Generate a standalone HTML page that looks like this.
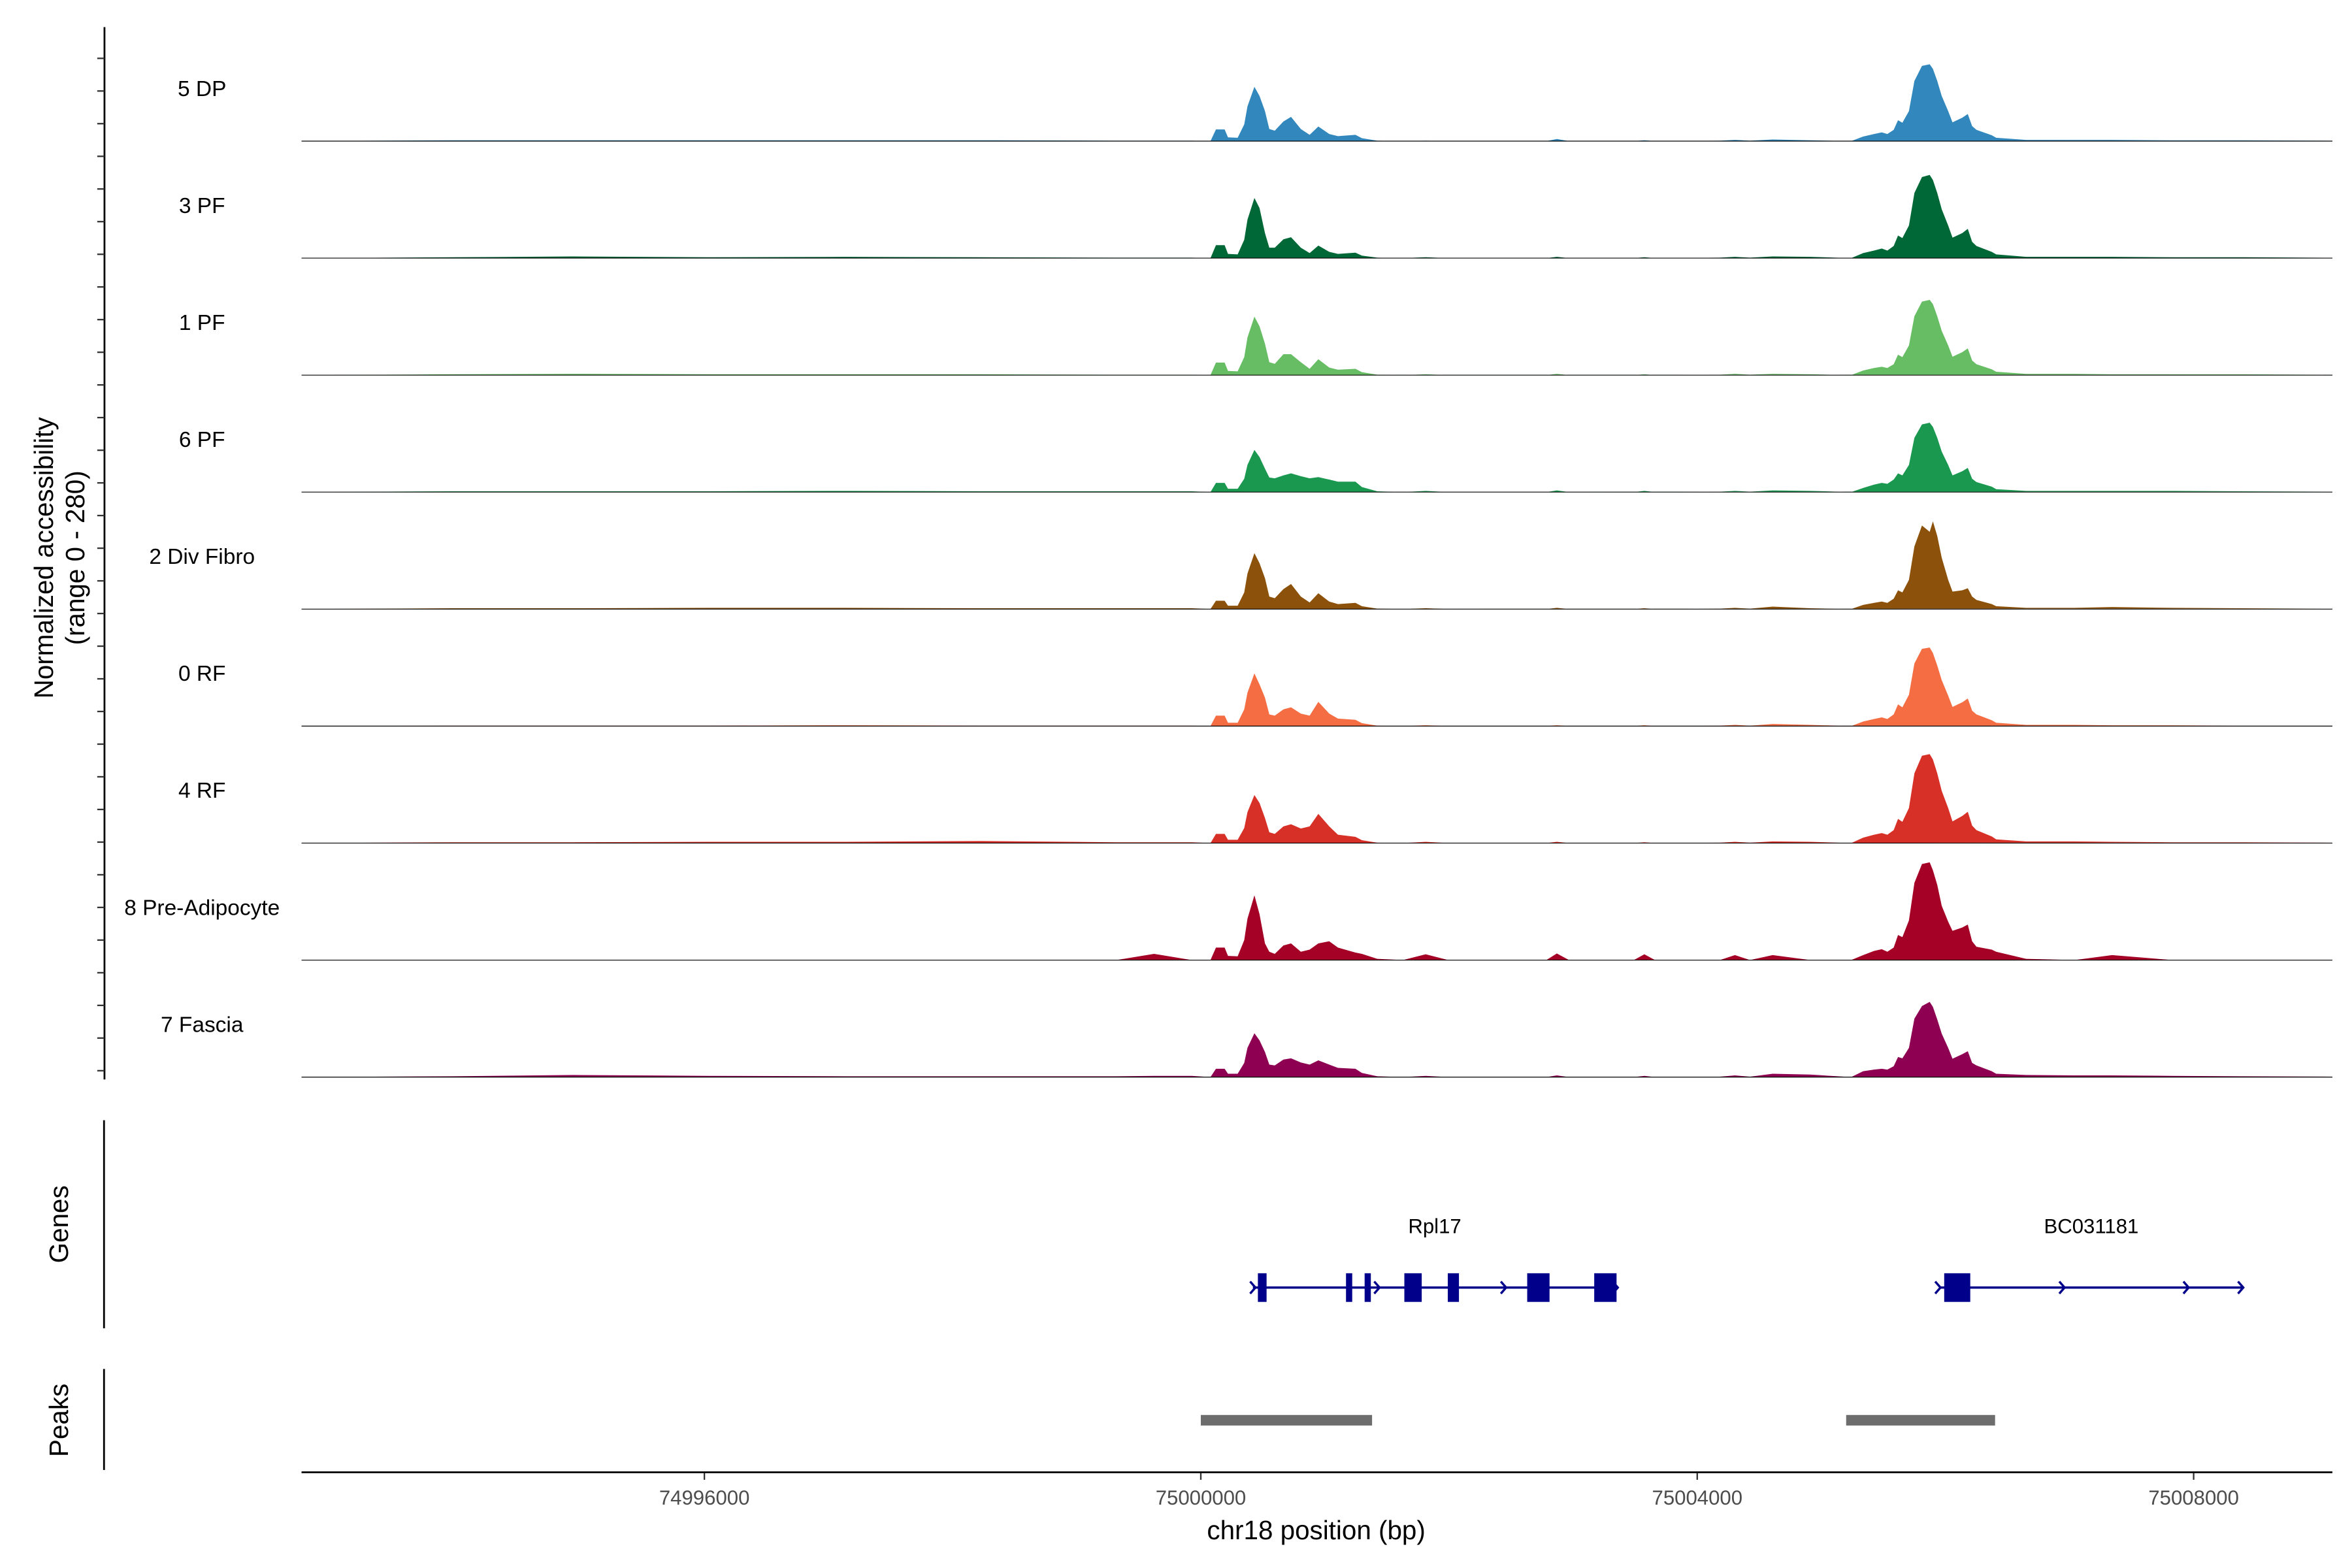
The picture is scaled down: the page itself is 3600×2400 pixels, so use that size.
<!DOCTYPE html>
<html><head><meta charset="utf-8"><style>
html,body{margin:0;padding:0;background:#fff;}
svg{display:block;font-family:"Liberation Sans",Arial,sans-serif;}
</style></head>
<body>
<svg id="chart" width="3600" height="2400" viewBox="0 0 1560 1040" xmlns="http://www.w3.org/2000/svg">
<rect width="1560" height="1040" fill="#fff"/>
<g id="tracks"></g>
<g id="yaxis"></g>
<text transform="translate(35,370) rotate(-90)" text-anchor="middle" font-size="17.5" fill="#000">Normalized accessibility</text>
<text transform="translate(56,370) rotate(-90)" text-anchor="middle" font-size="17.5" fill="#000">(range 0 - 280)</text>
<line x1="69" y1="743" x2="69" y2="881" stroke="#000" stroke-width="1.2"/>
<text transform="translate(45,812) rotate(-90)" text-anchor="middle" font-size="17.5" fill="#000">Genes</text>
<line x1="69" y1="908" x2="69" y2="975" stroke="#000" stroke-width="1.2"/>
<text transform="translate(45,942) rotate(-90)" text-anchor="middle" font-size="17.5" fill="#000">Peaks</text>
<g id="genes"></g>
<g id="peaks"></g>
<g id="xaxis"></g>
<text x="873" y="1021" text-anchor="middle" font-size="17.5" fill="#000">chr18 position (bp)</text>
</svg>
<script>
const NS="http://www.w3.org/2000/svg";
const positions=[74992760,74993970,74994942,74996036,74997131,74998225,74999319,74999623,74999927,
75000078,75000122,75000192,75000219,75000297,75000350,75000376,75000432,75000473,75000517,75000552,75000596,75000666,75000727,75000806,75000877,75000947,75001035,75001105,75001246,75001298,75001422,
75001629,75001812,75001994,75002784,75002869,75002967,75003489,75003574,75003660,75004182,75004304,75004425,75004608,75004912,
75005240,75005337,75005425,75005487,75005532,75005583,75005618,75005653,75005706,75005750,75005811,75005873,75005899,75005934,75005970,75006022,75006057,75006136,75006180,75006215,75006250,75006373,75006409,
75006650,75007040,75007343,75007830,75008401,75009131];
const trackNames=["5 DP","3 PF","1 PF","6 PF","2 Div Fibro","0 RF","4 RF","8 Pre-Adipocyte","7 Fascia"];
const trackColors=["#3288bd","#006837","#66bd63","#1a9850","#8c510a","#f46d43","#d73027","#a50026","#8e0152"];
const valsDP=[0,2,2,2,2,2,1,1,1, 0,28,28,9,8,40,83,130,108,72,29,25,47,58,29,15,35,17,12,15,7,1, 0,1,0,0,5,0,0,2,0,1,3,1,4,2, 0,11,17,21,17,27,50,44,72,144,180,184,173,144,108,72,45,56,65,36,27,14,8,3,3, 3,2,2,1,0];
const vals3PF=[0,2,4,2,3,2,1,1,1, 0,31,31,10,9,44,92,144,120,60,25,25,45,50,25,12,30,15,10,13,6,1, 0,2,0,0,3,0,0,2,0,1,3,1,4,3, 0,12,18,23,18,29,54,48,78,156,194,199,187,156,117,78,49,60,70,39,29,15,9,3,3, 3,2,2,1,0];
const vals1PF=[0,2,3,2,2,2,1,1,1, 0,30,30,10,9,43,90,140,117,75,31,27,50,50,31,15,38,18,13,15,7,1, 0,2,0,0,3,0,0,2,0,1,3,1,3,2, 0,11,17,20,17,26,49,43,71,141,176,180,170,141,106,71,44,55,64,35,26,14,8,3,3, 2,2,2,1,0];
const vals6PF=[0,2,2,2,3,2,2,2,2, 0,22,22,8,8,32,65,101,84,56,35,33,40,45,38,33,36,30,25,25,12,2, 0,3,0,0,4,0,0,3,0,1,3,1,4,3, 0,10,18,22,20,30,45,40,65,130,162,166,156,130,97,65,40,50,58,32,24,13,7,3,3, 3,3,2,1,0];
const valsDiv=[0,2,2,3,3,2,2,2,2, 0,20,20,8,8,40,85,134,110,74,30,26,48,60,30,16,38,18,12,15,7,1, 0,2,0,0,3,0,0,2,0,1,3,1,6,2, 0,10,15,18,15,25,45,40,70,150,200,185,210,175,123,70,42,45,50,30,22,12,7,3,3, 5,3,2,1,0];
const vals0RF=[0,1,1,1,2,1,1,1,1, 0,25,25,8,8,40,80,126,100,68,28,25,40,45,30,25,58,30,18,15,7,1, 0,2,0,0,2,0,0,2,0,1,3,1,5,3, 0,11,17,21,17,28,52,45,75,150,185,188,175,145,110,73,46,57,66,37,28,14,8,3,3, 2,2,1,1,0];
const vals4RF=[0,2,2,3,3,5,2,2,2, 0,22,22,8,8,36,74,115,96,60,26,22,40,45,35,40,70,40,20,15,7,1, 0,3,0,0,3,0,0,2,0,1,3,1,4,3, 0,13,20,24,20,31,58,51,84,167,209,213,200,167,125,84,52,65,75,42,31,16,9,4,4, 3,2,2,1,0];
const valsPre=[0,0,0,0,0,0,0,15,0, 0,30,30,10,9,48,99,155,110,40,20,15,35,40,20,25,40,45,30,18,15,3, 0,14,0,0,16,0,0,14,0,0,12,0,12,0, 0,12,22,26,20,30,60,55,95,185,230,234,215,180,130,92,70,78,85,45,32,25,20,3,0, 12,0,0,0,0];
const valsFas=[0,2,5,3,2,2,2,3,3, 0,20,20,8,8,34,70,105,88,60,30,28,42,45,35,30,40,30,22,20,10,2, 0,3,0,0,4,0,0,3,0,1,4,1,8,6, 0,14,18,20,18,26,48,45,70,140,170,180,168,138,104,70,44,55,62,34,28,14,8,5,4, 4,3,2,1,0];
const trackValues=[valsDP,vals3PF,vals1PF,vals6PF,valsDiv,vals0RF,vals4RF,valsPre,valsFas];
const xTicks=[74996000,75000000,75004000,75008000];
const peakStarts=[75000000,75005200];
const peakEnds=[75001380,75006400];
const rpl17Exons=[[75000460,75000530],[75001170,75001220],[75001320,75001370],[75001640,75001780],[75001990,75002080],[75002630,75002810],[75003170,75003350]];
const rpl17Span=[75000420,75003350];
const bcExons=[[75005990,75006200]];
const bcSpan=[75005950,75008400];

const X0=200,X1=1547,BP0=74992754,BP1=75009118;
function xs(bp){return X0+(bp-BP0)/(BP1-BP0)*(X1-X0);}
const trackTop=16,trackH=77.6,YMAX=280;
function ys(i,v){return trackTop+(i+1)*trackH-v/YMAX*trackH;}
function el(tag,attrs,parent){const e=document.createElementNS(NS,tag);for(const k in attrs)e.setAttribute(k,attrs[k]);parent.appendChild(e);return e;}

const gT=document.getElementById('tracks');
trackValues.forEach((vals,i)=>{
  const base=ys(i,0);
  let d="M"+xs(positions[0])+","+base;
  vals.forEach((v,j)=>{d+=" L"+xs(positions[j]).toFixed(2)+","+ys(i,v).toFixed(2);});
  d+=" L"+xs(positions[positions.length-1])+","+base+" Z";
  const p=el('path',{d:d,fill:trackColors[i]},gT);
  
  
  const b=el('line',{x1:X0,x2:X1,y1:base,y2:base,stroke:'#000','stroke-width':0.5},gT);
  
  
  const t=el('text',{x:134,y:ys(i,0)-30,'text-anchor':'middle','font-size':14.5,fill:'#000'},gT);
  t.textContent=trackNames[i];
  
  
});

const gY=document.getElementById('yaxis');
const al=el('line',{x1:69.3,x2:69.3,y1:18,y2:716,stroke:'#000','stroke-width':1.2},gY);


for(let y=38.7;y<716;y+=21.66){
  const tk=el('line',{x1:64.5,x2:69.3,y1:y,y2:y,stroke:'#333','stroke-width':1},gY);
  
  
}

const gX=document.getElementById('xaxis');
const xl=el('line',{x1:X0,x2:X1,y1:976.5,y2:976.5,stroke:'#000','stroke-width':1.2},gX);


xTicks.forEach(t=>{
  const x=xs(t);
  const tk=el('line',{x1:x,x2:x,y1:977,y2:981.5,stroke:'#333','stroke-width':1},gX);
  
  
  const lb=el('text',{x:x,y:998,'text-anchor':'middle','font-size':13.5,fill:'#4d4d4d'},gX);
  lb.textContent=t;
  
  
});

const gP=document.getElementById('peaks');
peakStarts.forEach((s,i)=>{
  const r=el('rect',{x:xs(s),y:938.5,width:xs(peakEnds[i])-xs(s),height:7,fill:'#6d6d6d'},gP);
  
  
});

const gG=document.getElementById('genes');
const GC='#00008b',GY=854;
function chevron(x){
  const c=el('polyline',{points:(x-3.5)+","+(GY-4)+" "+x+","+GY+" "+(x-3.5)+","+(GY+4),fill:'none',stroke:GC,'stroke-width':1.5},gG);
  
  
}
function gene(name,span,exons,arrows){
  const l=el('line',{x1:xs(span[0]),x2:xs(span[1]),y1:GY,y2:GY,stroke:GC,'stroke-width':1.5},gG);
  
  
  exons.forEach(e=>{
    const r=el('rect',{x:xs(e[0]),y:GY-9.5,width:xs(e[1])-xs(e[0]),height:19,fill:GC},gG);
    
    
  });
  arrows.forEach(a=>chevron(xs(a)));
  const t=el('text',{x:(xs(span[0])+xs(span[1]))/2,y:818,'text-anchor':'middle','font-size':13.5,fill:'#000'},gG);
  t.textContent=name;
  
  
}
gene("Rpl17",rpl17Span,rpl17Exons,[75000440,75001440,75002460,75003360]);
gene("BC031181",bcSpan,bcExons,[75005960,75006960,75007960,75008400]);
</script>
</body></html>
